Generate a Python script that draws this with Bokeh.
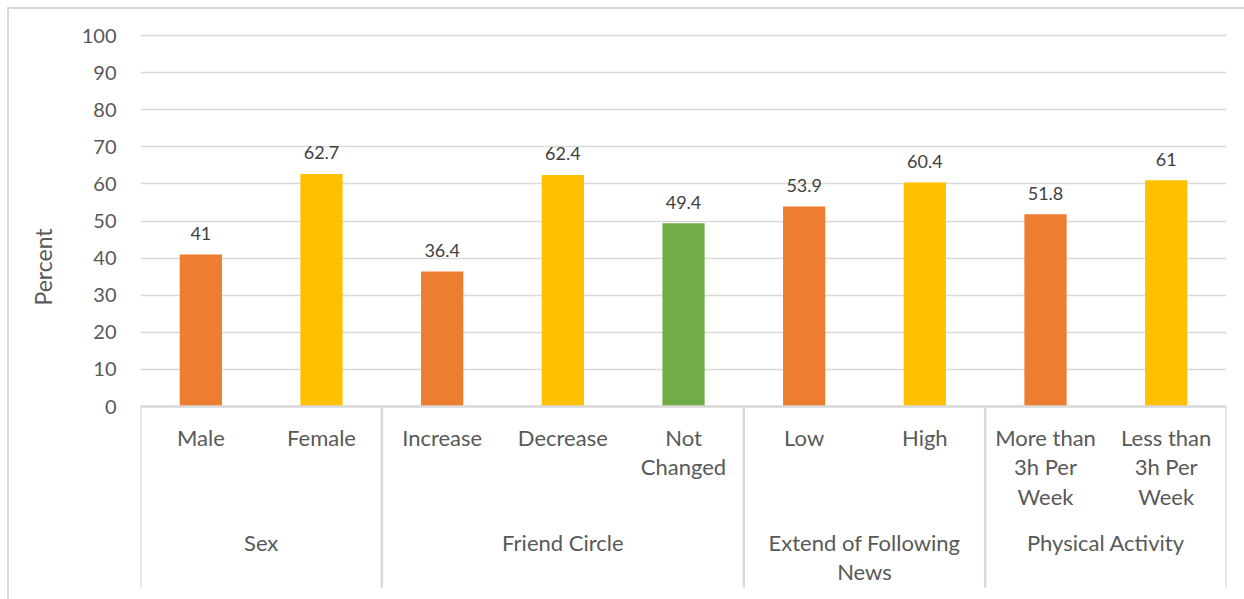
import math
from bokeh.plotting import figure
from bokeh.models import ColumnDataSource, FixedTicker, Title
from bokeh.core.properties import value
from bokeh.embed import file_html
from bokeh.resources import INLINE

# ---- data ----
groups = ["Sex", "Friend Circle", "Extend of Following\nNews", "Physical Activity"]
group_sizes = [2, 3, 2, 2]
categories = ["Male", "Female", "Increase", "Decrease", "Not\nChanged",
              "Low", "High", "More than\n3h Per\nWeek", "Less than\n3h Per\nWeek"]
percent = [41, 62.7, 36.4, 62.4, 49.4, 53.9, 60.4, 51.8, 61]
y_ticks = [0, 10, 20, 30, 40, 50, 60, 70, 80, 90, 100]

# ---- styles ----
palette = ["#ED7D31", "#FFC000", "#70AD47"]
FONT = "Lato"
GRID = "#D9D9D9"
TXT = "#595959"

W, H = 1244, 599
LEFT, RIGHT, TOP = 140, 18, 20
Y0_PX = 406  # pixel row of value 0 within the page
ppu = (Y0_PX - 35) / 100.0
Y_END = 100 + (35 - TOP) / ppu
Y_START = -(H - Y0_PX) / ppu

colors = []
for n in group_sizes:
    colors.extend(palette[:n])

xs = [i + 0.5 for i in range(len(categories))]
src = ColumnDataSource(dict(
    x=xs, top=percent, color=colors,
    label=[("%g" % v) for v in percent], cat=categories,
    zero=[0] * len(categories),
))

p = figure(width=W, height=H, output_backend="svg", toolbar_location=None,
           x_range=(0, len(categories)), y_range=(Y_START, Y_END),
           x_axis_location=None,
           min_border_left=LEFT, min_border_right=RIGHT,
           min_border_top=TOP, min_border_bottom=0)
p.outline_line_color = None
p.border_fill_color = None
p.background_fill_color = "white"
p.xgrid.grid_line_color = None
p.ygrid.grid_line_color = GRID
p.ygrid.grid_line_width = 1.5
p.ygrid.ticker = FixedTicker(ticks=y_ticks)

yax = p.yaxis[0]
yax.ticker = FixedTicker(ticks=y_ticks)
yax.axis_line_color = None
yax.major_tick_line_color = None
yax.minor_tick_line_color = None
yax.major_label_standoff = 18
yax.major_label_text_font = FONT
yax.major_label_text_font_size = "20px"
yax.major_label_text_color = TXT

p.styles = {
    "background-color": "white",
    "background-image": "linear-gradient(#D9D9D9,#D9D9D9), linear-gradient(#D9D9D9,#D9D9D9)",
    "background-size": "100% 2px, 2px 100%",
    "background-position": "7px 7px, 7px 7px",
    "background-repeat": "no-repeat",
}

# bars
p.vbar(x="x", top="top", bottom=0, width=0.35, fill_color="color",
       line_color=None, source=src)

# data labels
p.text(x="x", y="top", text="label", source=src, text_align="center",
       text_baseline="alphabetic", y_offset=-21,
       text_font=value(FONT), text_font_size="18px", text_color="#404040")

# category axis line and separators
p.segment(x0=[0], y0=[0], x1=[len(categories)], y1=[0],
          line_color=GRID, line_width=2.5)
bounds = [0]
for n in group_sizes:
    bounds.append(bounds[-1] + n)
sep_bottom = -(587 - Y0_PX) / ppu
p.segment(x0=bounds, y0=[0] * len(bounds), x1=bounds, y1=[sep_bottom] * len(bounds),
          line_color=GRID, line_width=2.5)

# category labels
p.text(x="x", y="zero", text="cat", source=src, text_align="center",
       text_baseline="top", y_offset=17, text_line_height=1.1,
       text_font=value(FONT), text_font_size="22px", text_color=TXT)

# group labels
gx = [(bounds[i] + bounds[i + 1]) / 2 for i in range(len(groups))]
p.text(x=gx, y=[0] * len(groups), text=groups, text_align="center",
       text_baseline="top", y_offset=122, text_line_height=1.1,
       text_font=value(FONT), text_font_size="22px", text_color=TXT)

# y axis title (as a side title so it can be shifted along the axis)
p.add_layout(Title(text="Percent", align="left", offset=H - 305, standoff=44,
                   text_font=FONT, text_font_size="23px",
                   text_font_style="normal", text_color=TXT), "left")

open("out.html", "w").write(file_html(p, INLINE))
